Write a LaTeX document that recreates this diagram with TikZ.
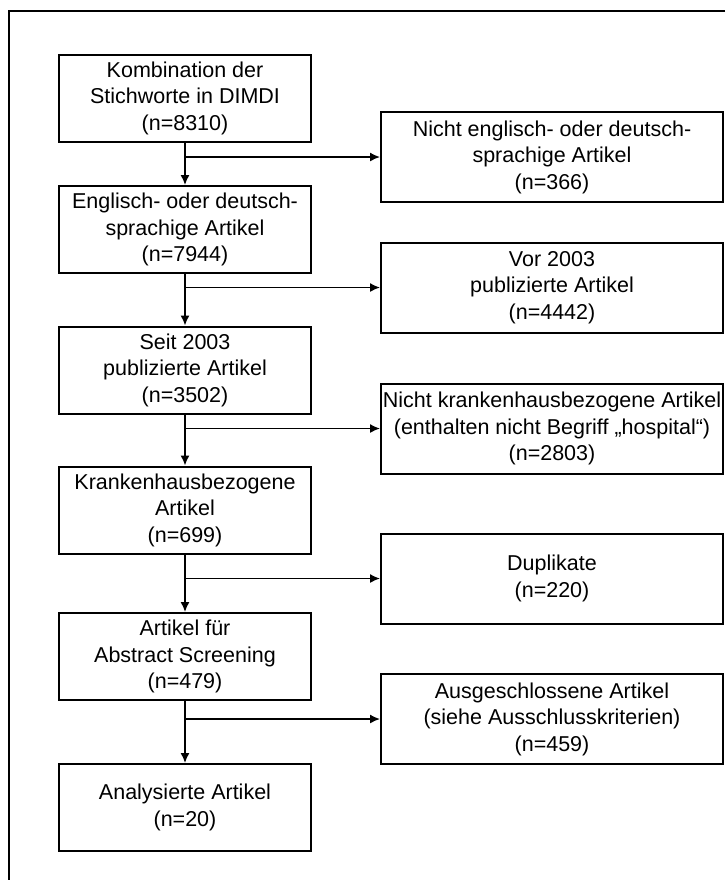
\documentclass[tikz,border=0pt]{standalone}
\usepackage{fontspec}
\setmainfont{Liberation Sans}
\usetikzlibrary{arrows.meta}

\begin{document}
\begin{tikzpicture}[x=0.5pt,y=-0.5pt,
    box/.style={draw,line width=1pt,minimum width=125.75pt,minimum height=43.5pt,
        align=center,inner sep=0pt,font=\fontsize{10.75}{13.25}\selectfont},
    side/.style={box,minimum width=171pt,minimum height=45pt}]
    \useasboundingbox (0,0) rectangle (725,880);
    % frame, only top and left edge
    \draw[line width=1pt] (725,11) -- (8.5,11) -- (8.5,880);

    \node[box] (1) at (185,98) {Kombination der\\Stichworte in DIMDI\\(n=8310)};
    \node[box] (2) at (185,229.5) {Englisch- oder deutsch-\\sprachige Artikel\\(n=7944)};
    \node[box] (3) at (185,370) {Seit 2003\\publizierte Artikel\\(n=3502)};
    \node[box] (4) at (185,510) {Krankenhausbezogene\\Artikel\\(n=699)};
    \node[box] (5) at (185,656.5) {Artikel für\\Abstract Screening\\(n=479)};
    \node[box] (6) at (185,807.5) {Analysierte Artikel\\(n=20)};

    \node[side] (7) at (552,157) {Nicht englisch- oder deutsch-\\sprachige Artikel\\(n=366)};
    \node[side] (8) at (552,287.5) {Vor 2003\\publizierte Artikel\\(n=4442)};
    \node[side] (9) at (552,428.5) {Nicht krankenhausbezogene Artikel\\(enthalten nicht Begriff „hospital“)\\(n=2803)};
    \node[side] (10) at (552,578.5) {Duplikate\\(n=220)};
    \node[side] (11) at (552,719) {Ausgeschlossene Artikel\\(siehe Ausschlusskriterien)\\(n=459)};
    %\node at (7.west)[circle,fill,inner sep=1pt]{};

\begin{scope}[line width=0.75pt,-{Latex[length=5pt,width=4.5pt]}]
\foreach \a/\b/\c in {1/2/7,2/3/8,3/4/9,4/5/10,5/6/11} {
    \draw (\a) -- (\b);
    \draw (\a.south |- \c) -- (\c);
}
\end{scope}
\end{tikzpicture}
\end{document}
